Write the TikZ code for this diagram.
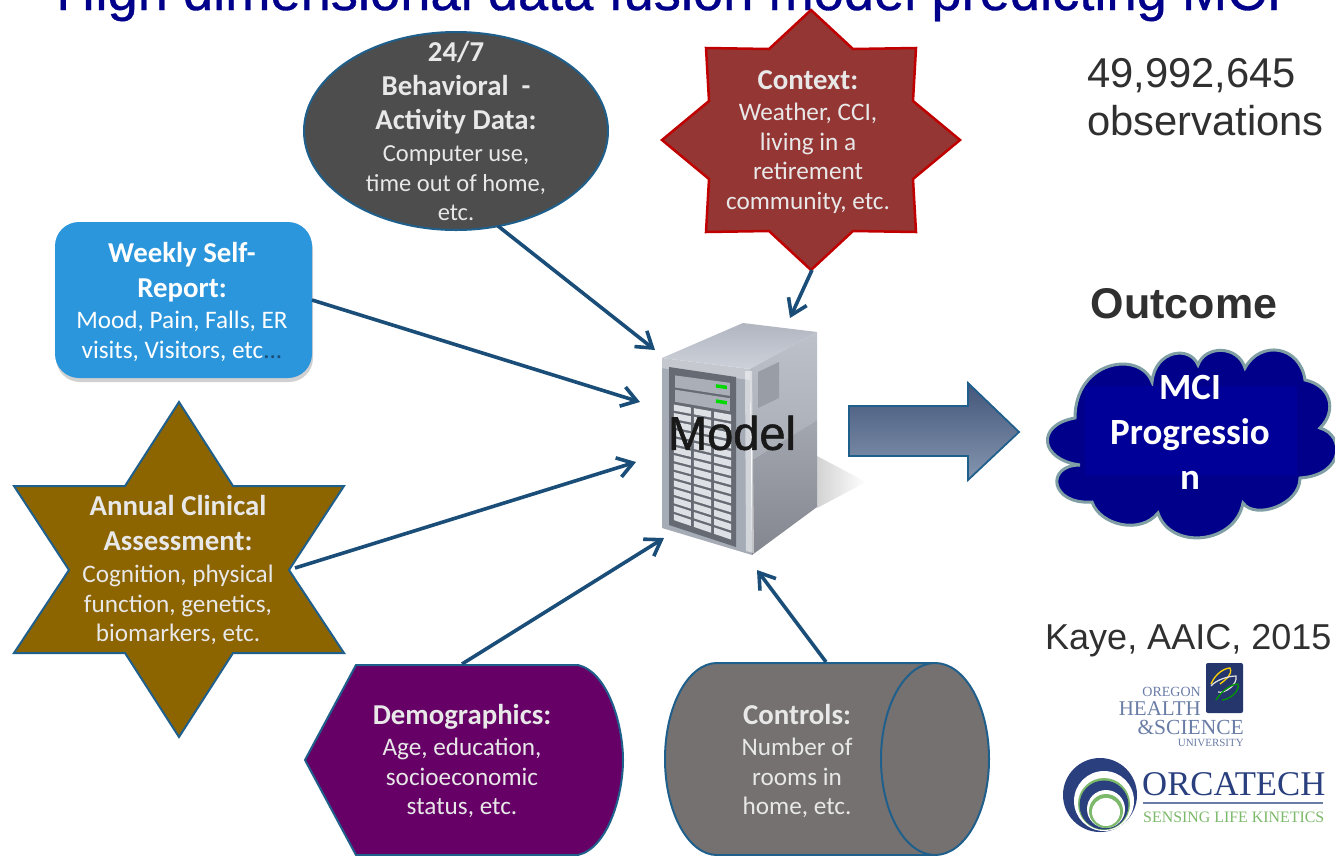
\documentclass[tikz,border=0pt]{standalone}
\usepackage{fontspec}
\setmainfont{Carlito}
\newfontfamily\arialf{Liberation Sans}
\newfontfamily\arialm[FakeBold=1.2]{Liberation Sans}
\newfontfamily\arialt[FakeBold=0.6]{Liberation Sans}
\newfontfamily\serf{Liberation Serif}
\usetikzlibrary{calc,shapes.geometric,arrows.meta,shadows,fadings}
\definecolor{edgeblue}{HTML}{1F5F8B}
\definecolor{arrowblue}{HTML}{1A4E78}
\definecolor{titleblue}{HTML}{00008B}
\definecolor{ctxred}{HTML}{943634}
\definecolor{ctxedge}{HTML}{C00000}
\definecolor{darkgray}{HTML}{4D4D4D}
\definecolor{selfblue}{HTML}{2C96DC}
\definecolor{gold}{HTML}{8C6400}
\definecolor{purp}{HTML}{660066}
\definecolor{cylgray}{HTML}{767171}
\definecolor{lighttext}{HTML}{E8E8E8}
\definecolor{navyfill}{HTML}{00008B}
\definecolor{navyrect}{HTML}{000099}
\definecolor{cloudedge}{HTML}{7F9FA5}
\definecolor{logoblue}{HTML}{6A7DA6}
\definecolor{orcablue}{HTML}{2A3F7E}
\definecolor{orcagreen}{HTML}{7DB96B}
\definecolor{bigtop}{HTML}{44567A}
\definecolor{bigbot}{HTML}{8596B0}
\definecolor{textdark}{HTML}{303030}
\definecolor{srvfront}{HTML}{A6ACB6}
\definecolor{srvtop}{HTML}{CDD2DA}
\definecolor{srvtopb}{HTML}{B0B5C0}
\definecolor{srvup}{HTML}{BCC1CA}
\definecolor{srvlowa}{HTML}{A3A7B0}
\definecolor{srvlowb}{HTML}{83868F}
\definecolor{srvpanel}{HTML}{666B73}
\definecolor{srvslot}{HTML}{DDE0E4}
\definecolor{srvdrive}{HTML}{A9AEB7}
\definecolor{srvvent}{HTML}{989DA6}
\tikzset{
  shapetext/.style={align=center,text=lighttext,inner sep=0pt,font=\fontsize{25.2}{29.5}\selectfont},
  flow/.style={draw=arrowblue,line width=3.6pt,-{Straight Barb[length=15pt,width=20pt,line width=3.6pt]}},
  shapeedge/.style={draw=edgeblue,line width=2pt},
  softshadow/.style={drop shadow={shadow xshift=1pt,shadow yshift=-4pt,opacity=.18,fill=black}},
  sidetext/.style={inner sep=0pt,text=textdark,font=\arialf\fontsize{41.7}{48}\selectfont,anchor=base west},
}
\newcommand{\hd}[1]{{\fontsize{28.8}{33}\selectfont\bfseries #1}}
\begin{document}
\begin{tikzpicture}[x=1pt,y=-1pt]
\useasboundingbox (0,0) rectangle (1335,855);
\clip (0,0) rectangle (1335,855);
\fill[white] (0,0) rectangle (1335,855);
% title
\node[anchor=base,inner sep=0pt,text=titleblue,font=\arialt\fontsize{54.3}{60}\selectfont] (title) at (669,10) {High dimensional data fusion model predicting MCI};
% ellipse
\node[ellipse,shapeedge,fill=darkgray,minimum width=304pt,minimum height=198pt,inner sep=0pt] (behshape) at (456,131) {};
\node[shapetext] (beh) at (456,131) {\hd{24/7}\\[5pt] \hd{Behavioral\ \ -}\\[4pt] \hd{Activity Data:}\\[3pt] {\fontsize{24.5}{29.5}\selectfont Computer use,}\\ {\fontsize{24.5}{29.5}\selectfont time out of home,}\\ {\fontsize{24.5}{29.5}\selectfont etc.}};
% context star
\filldraw[draw=ctxedge,fill=ctxred,line width=2.5pt] (811,10)--(853,49)--(916,48)--(913,101)--(960,140)--(913,179)--(916,232)--(853,231)--(811,270)--(769,231)--(706,232)--(709,179)--(662,140)--(709,101)--(706,48)--(769,49)--cycle;
\node[shapetext] (ctx) at (808,142) {\hd{Context:}\\[2pt] Weather, CCI,\\ living in a\\ retirement\\ community, etc.};
% weekly
\node[rounded corners=24pt,fill=selfblue,minimum width=257pt,minimum height=156pt,inner sep=0pt,softshadow] (selfshape) at (183.5,300) {};
\node[shapetext,text=white] (self) at (182,302) {\hd{Weekly Self-}\\[5pt] \hd{Report:}\\[2pt] Mood, Pain, Falls, ER\\ visits, Visitors, etc{\color{arrowblue}...}};
% annual star
\filldraw[shapeedge,fill=gold] (179,402)--(233,486)--(344,486)--(289,570)--(344,653)--(233,653)--(179,737)--(125,653)--(14,653)--(69,570)--(14,486)--(125,486)--cycle;
\node[shapetext] (ann) at (178,570) {\hd{Annual Clinical}\\[5pt] \hd{Assessment:}\\[3pt] Cognition, physical\\ function, genetics,\\ biomarkers, etc.};
% demographics
\filldraw[shapeedge,fill=purp] (305,760)--(356,665)--(578,665) .. controls (608,672) and (623,725) .. (623,760) .. controls (623,795) and (608,848) .. (578,855)--(356,855)--cycle;
\node[shapetext] (dem) at (462,761) {\hd{Demographics:}\\[2pt] Age, education,\\ socioeconomic\\ status, etc.};
% cylinder
\filldraw[shapeedge,fill=cylgray] (935,663)--(717,663) arc[start angle=270,end angle=90,x radius=52,y radius=96]--(935,855);
\filldraw[shapeedge,fill=cylgray] (935,759) ellipse[x radius=54,y radius=96];
\node[shapetext] (ctl) at (797,761) {\hd{Controls:}\\[2pt] Number of\\ rooms in\\ home, etc.};
% server shadow
\shade[left color=gray!35,right color=white] (817,456)--(866,482)--(817,508)--cycle;
% server
\coordinate (A) at (672,372); \coordinate (B) at (733,380); \coordinate (C) at (733,543); \coordinate (D) at (672,522);
\fill[srvfront] (662,358)--(750,369)--(752,555)--(662,528)--cycle;
\shade[top color=srvtopb,bottom color=srvtop] (662,358)--(743,323)--(817,332)--(750,369)--cycle;
\shade[top color=srvup,bottom color=srvup!90!black] (750,369)--(817,332)--(817,420)--(752,460)--cycle;
\shade[top color=srvlowa,bottom color=srvlowb] (752,460)--(817,420)--(817,507)--(752,555)--cycle;
\fill[white,opacity=.35] (661,358)--(750,369)--(750,380)--(661,368)--cycle;
\fill[white,opacity=.5] (745,371)--(752,371)--(754,553)--(746,551)--cycle;
\fill[srvvent] (758,372)--(779,362)--(779,398)--(758,408)--cycle;
\fill[srvpanel] (669,367)--(736,377)--(736,547)--(669,525)--cycle;
\foreach \a/\b/\g in {0.02/0.10/0.04,0.115/0.195/0.135}{
  \fill[srvdrive] ($($(A)!0.05!(B)$)!\a!($(D)!0.05!(C)$)$)--($($(A)!0.95!(B)$)!\a!($(D)!0.95!(C)$)$)--($($(A)!0.95!(B)$)!\b!($(D)!0.95!(C)$)$)--($($(A)!0.05!(B)$)!\b!($(D)!0.05!(C)$)$)--cycle;
  \pgfmathsetmacro{\gb}{\g+0.022}
  \fill[green!85!black] ($($(A)!0.72!(B)$)!\g!($(D)!0.72!(C)$)$)--($($(A)!0.9!(B)$)!\g!($(D)!0.9!(C)$)$)--($($(A)!0.9!(B)$)!\gb!($(D)!0.9!(C)$)$)--($($(A)!0.72!(B)$)!\gb!($(D)!0.72!(C)$)$)--cycle;
}
\foreach \c in {0.03,0.36,0.69}{
 \foreach \r in {0,...,13}{
  \pgfmathsetmacro{\ca}{\c}\pgfmathsetmacro{\cb}{\c+0.28}
  \pgfmathsetmacro{\ra}{0.215+\r*0.056}\pgfmathsetmacro{\rb}{\ra+0.04}
  \fill[srvslot] ($($(A)!\ca!(B)$)!\ra!($(D)!\ca!(C)$)$)--($($(A)!\cb!(B)$)!\ra!($(D)!\cb!(C)$)$)--($($(A)!\cb!(B)$)!\rb!($(D)!\cb!(C)$)$)--($($(A)!\ca!(B)$)!\rb!($(D)!\ca!(C)$)$)--cycle;
 }
}
\node[inner sep=0pt,text=black!90,font=\arialm\fontsize{47}{50}\selectfont] (model) at (732,433) {Model};
% big arrow
\shade[top color=bigtop,bottom color=bigbot,draw=edgeblue,line width=1.8pt] (849,406)--(968,406)--(968,383)--(1019,432)--(968,480)--(968,456)--(849,456)--cycle;
% connectors
\draw[flow] ([shift={(42,95)}]beh.center) -- ([shift={(-77,-83)}]model.center);
\draw[flow] ([shift={(4,128)}]ctx.center) -- ([shift={(58,-115)}]model.center);
\draw[flow] ([shift={(130,-2)}]self.center) -- ([shift={(-92,-31)}]model.center);
\draw[flow] ([shift={(117,-2)}]ann.center) -- ([shift={(-96,29)}]model.center);
\draw[flow] ([shift={(0,-97)}]dem.center) -- ([shift={(-68,105)}]model.center);
\draw[flow] ([shift={(29,-99)}]ctl.center) -- ([shift={(25,137)}]model.center);
% right column
\node[sidetext] (count) at (1087,87) {49,992,645};
\node[sidetext] (obs) at (1087,135) {observations};
\node[inner sep=0pt,text=textdark,font=\arialf\bfseries\fontsize{43}{48}\selectfont] (outcome) at (1184,304) {Outcome};
% cloud
\filldraw[draw=cloudedge,fill=navyfill,line width=3pt]
 (1075,418) .. controls (1075,360) and (1140,350) .. (1152,382)
 .. controls (1155,350) and (1190,345) .. (1198,365)
 .. controls (1205,345) and (1238,345) .. (1245,368)
 .. controls (1260,340) and (1300,345) .. (1305,380)
 .. controls (1330,385) and (1338,410) .. (1320,428)
 .. controls (1345,435) and (1345,475) .. (1300,478)
 .. controls (1300,505) and (1255,520) .. (1243,503)
 .. controls (1235,545) and (1170,550) .. (1158,513)
 .. controls (1140,535) and (1100,525) .. (1092,502)
 .. controls (1050,505) and (1045,465) .. (1080,465)
 .. controls (1040,460) and (1035,425) .. (1075,418) -- cycle;
\fill[navyrect] (1085,386) rectangle (1297,475);
\node[inner sep=0pt,align=center,text=white,font=\bfseries\fontsize{37}{45}\selectfont] (mci) at (1190,432) {MCI\\ Progressio\\ n};
% citation
\node[inner sep=0pt,text=textdark,font=\arialf\fontsize{36}{40}\selectfont,anchor=base west] (kaye) at (1045,649) {Kaye, AAIC, 2015};
% OHSU logo
\fill[orcablue!85!black,rounded corners=2pt] (1206,663) rectangle (1243,713);
\draw[yellow!70!orange,line width=1.3pt] (1211,684) .. controls (1216,672) and (1226,668) .. (1230,668) .. controls (1233,675) and (1225,680) .. (1220,684);
\draw[gray!20,line width=1.2pt] (1211,686) .. controls (1216,680) and (1228,676) .. (1236,676) .. controls (1238,684) and (1225,694) .. (1218,692);
\draw[green!60!black,line width=1.3pt] (1216,700) .. controls (1222,690) and (1232,684) .. (1238,684) .. controls (1240,692) and (1228,700) .. (1222,700);
\node[inner sep=0pt,anchor=base east,text=logoblue,font=\serf\fontsize{14}{16}\selectfont] (ohsu1) at (1201,696) {OREGON};
\node[inner sep=0pt,anchor=base east,text=logoblue,font=\serf\fontsize{21}{24}\selectfont] (ohsu2) at (1201,715) {HEALTH};
\node[inner sep=0pt,anchor=base east,text=logoblue,font=\serf\fontsize{21.5}{24}\selectfont] (ohsu3) at (1244,734) {\&SCIENCE};
\node[inner sep=0pt,anchor=base east,text=logoblue,font=\serf\fontsize{11}{13}\selectfont] (ohsu4) at (1244,746) {UNIVERSITY};
% ORCATECH logo
\fill[orcablue] (1100,795) circle[radius=37];
\fill[white] (1104,801) circle[radius=30];
\fill[orcagreen] (1104,804) circle[radius=26];
\fill[orcablue] (1104,805) circle[radius=24.5];
\fill[white] (1106,809) circle[radius=19];
\fill[orcagreen] (1106,811) circle[radius=17];
\fill[white] (1106,812) circle[radius=14];
\node[inner sep=0pt,anchor=base west,text=orcablue,font=\serf\fontsize{34.7}{40}\selectfont] (orca) at (1142,795) {ORCATECH};
\draw[logoblue,line width=1.2pt] (1143,803) -- (1323,803);
\node[inner sep=0pt,anchor=base west,text=orcagreen,font=\serf\fontsize{15.9}{18}\selectfont] (orcasub) at (1143,822) {SENSING LIFE KINETICS};
\end{tikzpicture}
\end{document}
